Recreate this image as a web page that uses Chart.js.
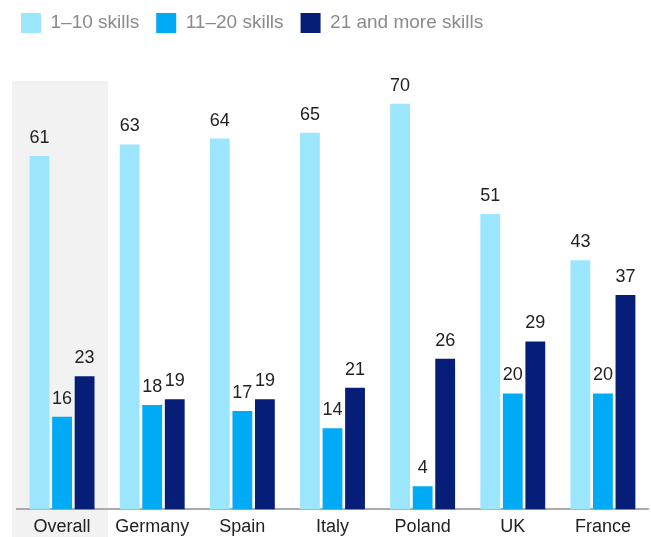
<!DOCTYPE html>
<html>
<head>
<meta charset="utf-8">
<script src="https://cdn.jsdelivr.net/npm/chart.js@4/dist/chart.umd.min.js"></script>
<style>
  html, body { margin: 0; padding: 0; background: #fff; }
  #wrap { width: 651px; height: 537px; position: relative; }
</style>
</head>
<body>
<div id="wrap"><canvas id="skillsChart"></canvas></div>
<script>
const countries = ['Overall', 'Germany', 'Spain', 'Italy', 'Poland', 'UK', 'France'];
const skills1to10 = [61, 63, 64, 65, 70, 51, 43];
const skills11to20 = [16, 18, 17, 14, 4, 20, 20];
const skills21plus = [23, 19, 19, 21, 26, 29, 37];

const FONT = "'Liberation Sans', Arial, sans-serif";

// grey panel behind the "Overall" group, drawn before everything else
const highlightPlugin = {
  id: 'highlight',
  beforeDraw(chart) {
    const { ctx, scales } = chart;
    const cx = scales.x.getPixelForValue(0);
    const top = scales.y.getPixelForValue(74);
    ctx.save();
    ctx.fillStyle = '#f2f2f2';
    ctx.fillRect(cx - 50, top, 96, chart.height - top);
    ctx.restore();
  }
};

// value labels above each bar
const valueLabels = {
  id: 'valueLabels',
  afterDatasetsDraw(chart) {
    const { ctx } = chart;
    ctx.save();
    ctx.font = '18px ' + FONT;
    ctx.fillStyle = '#222';
    ctx.textAlign = 'center';
    ctx.textBaseline = 'bottom';
    chart.data.datasets.forEach((ds, i) => {
      chart.getDatasetMeta(i).data.forEach((bar, j) => {
        ctx.fillText(ds.data[j], bar.x, bar.y - 9);
      });
    });
    ctx.restore();
  }
};

new Chart(document.getElementById('skillsChart'), {
  type: 'bar',
  data: {
    labels: countries,
    datasets: [
      { label: '1–10 skills', data: skills1to10, backgroundColor: '#9be6fd' },
      { label: '11–20 skills', data: skills11to20, backgroundColor: '#00aaf4' },
      { label: '21 and more skills', data: skills21plus, backgroundColor: '#061e78' }
    ]
  },
  options: {
    responsive: true,
    maintainAspectRatio: false,
    animation: false,
    layout: { padding: { left: 4, right: 3, top: -4, bottom: -8 } },
    datasets: {
      bar: { categoryPercentage: 0.75, barPercentage: 0.88 }
    },
    plugins: {
      legend: {
        position: 'top',
        align: 'start',
        labels: {
          boxWidth: 20,
          boxHeight: 20,
          padding: 17,
          color: '#8a8a8a',
          font: { family: FONT, size: 19 }
        }
      },
      tooltip: { enabled: false }
    },
    scales: {
      x: {
        grid: { display: false, drawTicks: false },
        border: { color: '#ababab', width: 2 },
        ticks: { color: '#222', font: { family: FONT, size: 18 }, padding: 7 }
      },
      y: {
        min: 0,
        max: 80.5,
        grid: { display: false, drawTicks: false },
        border: { display: false },
        ticks: { display: false },
        afterFit(scale) { scale.width = 13; }
      }
    }
  },
  plugins: [highlightPlugin, valueLabels]
});
</script>
</body>
</html>
